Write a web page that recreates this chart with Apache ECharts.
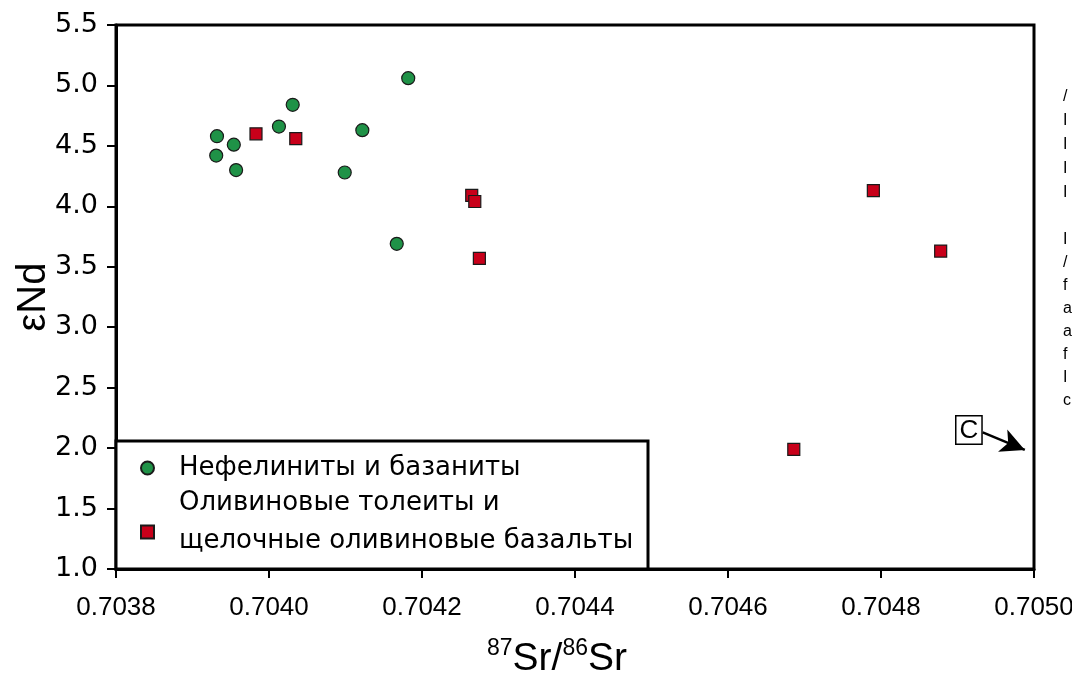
<!DOCTYPE html>
<html>
<head>
<meta charset="utf-8">
<script src="https://cdn.jsdelivr.net/npm/echarts@6/dist/echarts.min.js"></script>
<style>
html,body{margin:0;padding:0;background:#fff;overflow:hidden}
#c{width:1072px;height:679px}
</style>
</head>
<body>
<div id="c"></div>
<script>
// Nephelinites & basanites
const nephX = [0.703931, 0.703932, 0.703954, 0.703957, 0.704013, 0.704031, 0.704122, 0.704099, 0.704182, 0.704167];
const nephY = [4.42, 4.58, 4.51, 4.30, 4.66, 4.84, 4.63, 4.28, 5.06, 3.69];
// Olivine tholeiites & alkali olivine basalts
const tholX = [0.703983, 0.704035, 0.704265, 0.704269, 0.704275, 0.704686, 0.704790, 0.704878];
const tholY = [4.60, 4.56, 4.09, 4.04, 3.57, 1.99, 4.13, 3.63];
const seriesNames = ['Нефелиниты и базаниты', 'Оливиновые толеиты и щелочные оливиновые базальты'];
const legendLines = {
  [seriesNames[0]]: ['Нефелиниты и базаниты'],
  [seriesNames[1]]: ['Оливиновые толеиты и', 'щелочные оливиновые базальты']
};
// Arrow towards component C
const arrowFrom = [0.704933, 2.13];
const arrowTo = [0.704988, 1.985];
// Truncated side text (clipped at page edge)
const sideBlock1 = ['/', 'I', 'I', 'I', 'I'];
const sideBlock2 = ['I', '/', 'f', 'a', 'a', 'f', 'I', 'c'];

const zip = (a, b) => a.map((v, i) => [v, b[i]]);
const chart = echarts.init(document.getElementById('c'), null, {renderer: 'canvas'});

const graphics = [
  {type: 'rect', shape: {x: 116, y: 441, width: 532, height: 128},
   style: {fill: '#fff', stroke: '#000', lineWidth: 3}, z: 5},
  {type: 'text', left: 955, top: 415, z: 10,
   style: {text: 'C', font: '26px "Liberation Sans", Arial', fill: '#000',
           backgroundColor: '#fff', borderColor: '#000', borderWidth: 1.5, padding: [1, 3, 0, 3]}}
];
sideBlock1.forEach((t, i) => graphics.push({type: 'text', left: 1063, top: 89 + i * 24,
  style: {text: t, font: '16px "Liberation Sans", Arial', fill: '#000'}}));
sideBlock2.forEach((t, i) => graphics.push({type: 'text', left: 1063, top: 232 + i * 23,
  style: {text: t, font: '16px "Liberation Sans", Arial', fill: '#000'}}));

const option = {
  animation: false,
  backgroundColor: '#fff',
  textStyle: {fontFamily: '"Liberation Sans", Arial, sans-serif', color: '#000'},
  grid: {left: 116, right: 38, top: 25, bottom: 110, show: true, borderColor: '#000', borderWidth: 3,
         containLabel: false, outerBoundsMode: 'none'},
  xAxis: {
    type: 'value', min: 0.7038, max: 0.7050, interval: 0.0002,
    axisLine: {lineStyle: {color: '#000', width: 3}},
    axisTick: {inside: false, length: 9, lineStyle: {color: '#000', width: 2}},
    splitLine: {show: false},
    axisLabel: {formatter: v => v.toFixed(4), fontSize: 26, color: '#000', margin: 26,
                fontFamily: '"Liberation Sans", Arial', hideOverlap: false},
    name: '{sup|87}{b|Sr/}{sup|86}{b|Sr}',
    nameLocation: 'middle', nameGap: 68, nameMoveOverlap: false,
    nameTextStyle: {padding: [0, 36, 0, 0], rich: {
      b: {fontSize: 39, lineHeight: 42, verticalAlign: 'bottom', color: '#000', fontFamily: '"Liberation Sans", Arial'},
      sup: {fontSize: 23, lineHeight: 26, verticalAlign: 'top', color: '#000', fontFamily: '"Liberation Sans", Arial'}
    }}
  },
  yAxis: {
    type: 'value', min: 1.0, max: 5.5, interval: 0.5,
    axisLine: {lineStyle: {color: '#000', width: 3}},
    axisTick: {inside: false, length: 9, lineStyle: {color: '#000', width: 2}},
    splitLine: {show: false},
    axisLabel: {formatter: v => v.toFixed(1), fontSize: 27, color: '#000', margin: 18,
                fontFamily: '"DejaVu Sans", sans-serif'},
    name: 'εNd', nameLocation: 'middle', nameGap: 62, nameMoveOverlap: false,
    nameTextStyle: {fontSize: 40, color: '#000', fontFamily: '"Liberation Sans", Arial'}
  },
  legend: {
    orient: 'vertical', left: 135, top: 450, itemGap: 9,
    itemWidth: 13, itemHeight: 13, z: 8,
    data: seriesNames,
    formatter: name => {
      const lines = legendLines[name].map(l => '{a|' + l + '}');
      if (lines.length > 1) { lines.push('{s| }'); }
      else { lines[0] = '{c|' + legendLines[name][0] + '}'; }
      return lines.join('\n');
    },
    textStyle: {fontSize: 26, color: '#000', fontFamily: '"DejaVu Sans", sans-serif', padding: [0, 0, 0, 20],
      rich: {
        a: {fontSize: 26, lineHeight: 38, color: '#000', fontFamily: '"DejaVu Sans", sans-serif'},
        c: {fontSize: 26, lineHeight: 26, color: '#000', fontFamily: '"DejaVu Sans", sans-serif'},
        s: {fontSize: 10, lineHeight: 20}
      }}
  },
  series: [
    {name: seriesNames[0], type: 'scatter', data: zip(nephX, nephY), symbol: 'circle', symbolSize: 13,
     itemStyle: {color: '#1f9247', borderColor: '#1a1a1a', borderWidth: 1.2, opacity: 1}},
    {name: seriesNames[1], type: 'scatter', data: zip(tholX, tholY), symbol: 'rect', symbolSize: 12,
     itemStyle: {color: '#c8001a', borderColor: '#1a1a1a', borderWidth: 1.2, opacity: 1}},
    {type: 'line', data: [], silent: true,
     markLine: {silent: true, symbol: ['none', 'arrow'], symbolSize: [18, 24],
       lineStyle: {color: '#000', width: 2.5, type: 'solid'}, label: {show: false},
       data: [[{coord: arrowFrom}, {coord: arrowTo}]]}}
  ],
  graphic: graphics
};
chart.setOption(option);
</script>
</body>
</html>
